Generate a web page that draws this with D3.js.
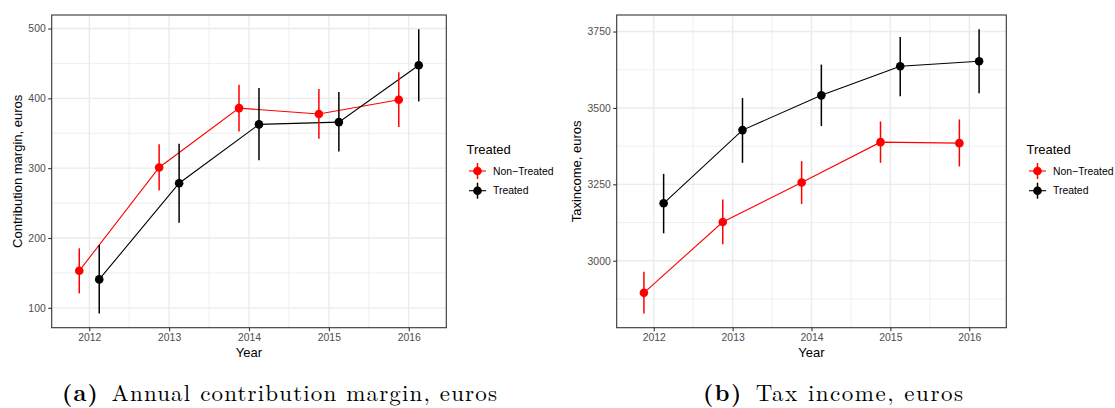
<!DOCTYPE html>
<html>
<head>
<meta charset="utf-8">
<script src="https://cdn.jsdelivr.net/npm/d3@7"></script>
<style>
  html, body { margin: 0; padding: 0; background: #ffffff; }
  svg { display: block; }
</style>
</head>
<body>
<svg id="fig" width="1115" height="408"></svg>
<script>
// ---- data -------------------------------------------------------------
const years = [2012, 2013, 2014, 2015, 2016];
const groups = ["Non\u2212Treated", "Treated"];
const groupColors = ["#ff0000", "#000000"];

// Annual contribution margin (euros): mean and interval bounds
const contribNonTreated   = [153, 301, 386, 377.5, 398];
const contribNonTreatedLo = [120.6, 268, 352.6, 342, 359];
const contribNonTreatedHi = [185.2, 334.4, 419.6, 413.4, 437.3];
const contribTreated      = [140.7, 278.5, 362.7, 366, 447.4];
const contribTreatedLo    = [91.9, 222, 311.5, 324, 395.6];
const contribTreatedHi    = [190, 334.9, 414.9, 409.1, 499];

// Tax income (euros): mean and interval bounds
const taxNonTreated   = [2895, 3126.8, 3255.9, 3388, 3384.8];
const taxNonTreatedLo = [2827.4, 3053.7, 3185.9, 3320.3, 3308.3];
const taxNonTreatedHi = [2963.9, 3200, 3325.9, 3455.9, 3462.4];
const taxTreated      = [3188, 3427.5, 3541.2, 3636.3, 3652.7];
const taxTreatedLo    = [3089.7, 3320.3, 3440.6, 3537.9, 3547.7];
const taxTreatedHi    = [3284.3, 3532.4, 3641.8, 3732.5, 3757.6];

const contribTicks = [100, 200, 300, 400, 500];
const contribMinor = [150, 250, 350, 450];
const taxTicks = [3000, 3250, 3500, 3750];
const taxMinor = [2875, 3125, 3375, 3625];
const yearMinor = [2012.5, 2013.5, 2014.5, 2015.5];

const captionA = { tag: "(a)", text: "Annual contribution margin, euros" };
const captionB = { tag: "(b)", text: "Tax income, euros" };

// ---- drawing ----------------------------------------------------------
const svg = d3.select("#fig");
const SANS = "'Liberation Sans', Arial, Helvetica, sans-serif";
const dodge = 0.125;

function drawPanel(opt) {
  const g = svg.append("g");
  const { left, right, top, bottom } = opt.box;

  const x = d3.scaleLinear().domain([2011.53, 2016.47]).range([left, right]);

  const allVals = opt.series.flatMap(s => s.lo.concat(s.hi));
  const ext = d3.extent(allVals);
  const pad = (ext[1] - ext[0]) * 0.05;
  const y = d3.scaleLinear().domain([ext[0] - pad, ext[1] + pad]).range([bottom, top]);

  // minor grid
  g.append("g").selectAll("line").data(opt.minorY).join("line")
    .attr("x1", left).attr("x2", right)
    .attr("y1", d => y(d)).attr("y2", d => y(d))
    .attr("stroke", "#ebebeb").attr("stroke-width", 0.8);
  g.append("g").selectAll("line").data(yearMinor).join("line")
    .attr("y1", top).attr("y2", bottom)
    .attr("x1", d => x(d)).attr("x2", d => x(d))
    .attr("stroke", "#ebebeb").attr("stroke-width", 0.8);
  // major grid
  g.append("g").selectAll("line").data(opt.ticksY).join("line")
    .attr("x1", left).attr("x2", right)
    .attr("y1", d => y(d)).attr("y2", d => y(d))
    .attr("stroke", "#ebebeb").attr("stroke-width", 1.4);
  g.append("g").selectAll("line").data(years).join("line")
    .attr("y1", top).attr("y2", bottom)
    .attr("x1", d => x(d)).attr("x2", d => x(d))
    .attr("stroke", "#ebebeb").attr("stroke-width", 1.4);

  // series
  const series = opt.series.map((s, i) => ({
    ...s,
    color: groupColors[i],
    pts: years.map((yr, j) => ({ x: yr + (i === 0 ? -dodge : dodge), v: s.mean[j], lo: s.lo[j], hi: s.hi[j] }))
  }));

  const line = d3.line().x(d => x(d.x)).y(d => y(d.v));
  series.forEach(s => {
    g.append("path").datum(s.pts).attr("d", line)
      .attr("fill", "none").attr("stroke", s.color).attr("stroke-width", 1.1);
  });
  series.forEach(s => {
    g.append("g").selectAll("line").data(s.pts).join("line")
      .attr("x1", d => x(d.x)).attr("x2", d => x(d.x))
      .attr("y1", d => y(d.lo)).attr("y2", d => y(d.hi))
      .attr("stroke", s.color).attr("stroke-width", 1.5);
  });
  series.forEach(s => {
    g.append("g").selectAll("circle").data(s.pts).join("circle")
      .attr("cx", d => x(d.x)).attr("cy", d => y(d.v)).attr("r", 4.3)
      .attr("fill", s.color);
  });

  // panel border
  g.append("rect").attr("x", left).attr("y", top)
    .attr("width", right - left).attr("height", bottom - top)
    .attr("fill", "none").attr("stroke", "#333333").attr("stroke-width", 1.1);

  // axes
  const yAxis = g.append("g").attr("transform", `translate(${left},0)`)
    .call(d3.axisLeft(y).tickValues(opt.ticksY).tickSize(3.5).tickPadding(2.5).tickFormat(d3.format("d")));
  const xAxis = g.append("g").attr("transform", `translate(0,${bottom})`)
    .call(d3.axisBottom(x).tickValues(years).tickSize(3.5).tickPadding(2.5).tickFormat(d3.format("d")));
  [yAxis, xAxis].forEach(a => {
    a.select(".domain").remove();
    a.selectAll(".tick line").attr("stroke", "#333333").attr("stroke-width", 1.1);
    a.selectAll(".tick text").attr("fill", "#4d4d4d")
      .style("font-family", SANS).style("font-size", "10.4px");
  });

  // axis titles
  g.append("text").text("Year")
    .attr("x", (left + right) / 2).attr("y", 356.5)
    .attr("text-anchor", "middle")
    .style("font-family", SANS).style("font-size", "13px").attr("fill", "#000");
  g.append("text").text(opt.yTitle)
    .attr("transform", `translate(${opt.yTitleX},${(top + bottom) / 2}) rotate(-90)`)
    .attr("text-anchor", "middle")
    .style("font-family", SANS).style("font-size", "13px").attr("fill", "#000");

  // legend
  const lg = g.append("g").attr("transform", `translate(${opt.legendX},0)`);
  lg.append("text").text("Treated").attr("x", 0).attr("y", 153.5)
    .style("font-family", SANS).style("font-size", "13px").attr("fill", "#000");
  groups.forEach((name, i) => {
    const cy = 171 + i * 19.7;
    const kx = 11;
    lg.append("line").attr("x1", kx - 8.5).attr("x2", kx + 8.5).attr("y1", cy).attr("y2", cy)
      .attr("stroke", groupColors[i]).attr("stroke-width", 1.1);
    lg.append("line").attr("x1", kx).attr("x2", kx).attr("y1", cy - 8).attr("y2", cy + 8)
      .attr("stroke", groupColors[i]).attr("stroke-width", 1.5);
    lg.append("circle").attr("cx", kx).attr("cy", cy).attr("r", 4.3).attr("fill", groupColors[i]);
    lg.append("text").text(name).attr("x", 26.5).attr("y", cy + 3.7)
      .style("font-family", SANS).style("font-size", "10.4px").attr("fill", "#000");
  });
}

drawPanel({
  box: { left: 51.7, right: 446.3, top: 15, bottom: 327.7 },
  series: [
    { mean: contribNonTreated, lo: contribNonTreatedLo, hi: contribNonTreatedHi },
    { mean: contribTreated, lo: contribTreatedLo, hi: contribTreatedHi }
  ],
  ticksY: contribTicks, minorY: contribMinor,
  yTitle: "Contribution margin, euros", yTitleX: 21.5,
  legendX: 466.5
});

drawPanel({
  box: { left: 616.7, right: 1006.3, top: 15, bottom: 327.7 },
  series: [
    { mean: taxNonTreated, lo: taxNonTreatedLo, hi: taxNonTreatedHi },
    { mean: taxTreated, lo: taxTreatedLo, hi: taxTreatedHi }
  ],
  ticksY: taxTicks, minorY: taxMinor,
  yTitle: "Taxincome, euros", yTitleX: 580.5,
  legendX: 1026.5
});

// sub-figure captions: fixed size, letter spacing widened to fill the span
function caption(c, x0, x1, baseline) {
  const SERIF = "'Latin Modern Roman', 'CMU Serif', 'Liberation Serif', 'DejaVu Serif', serif";
  const t = svg.append("text").attr("x", x0).attr("y", baseline)
    .style("font-family", SERIF).style("font-size", "23px").attr("fill", "#000");
  t.append("tspan").text(c.tag).style("font-weight", "bold");
  t.append("tspan").text("\u2002" + c.text);
  const w = t.node().getComputedTextLength();
  const n = (c.tag + "\u2002" + c.text).length - 1;
  const extra = Math.max(0, (x1 - x0 - w) / n);
  t.style("letter-spacing", extra + "px");
}
caption(captionA, 62, 497, 400.5);
caption(captionB, 703, 963, 400.5);
</script>
</body>
</html>
